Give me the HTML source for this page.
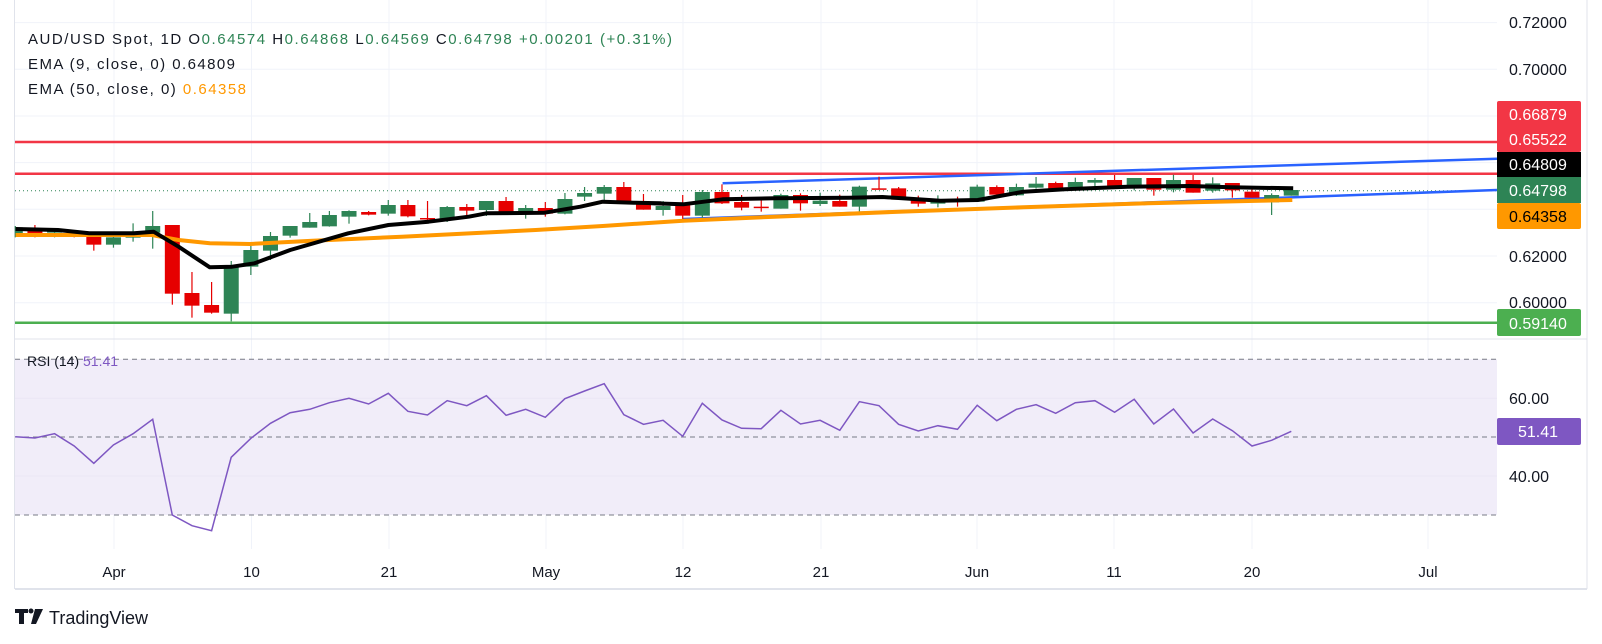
<!DOCTYPE html>
<html><head><meta charset="utf-8"><style>
html,body{margin:0;padding:0;background:#fff;}
svg{display:block;font-family:"Liberation Sans",sans-serif;}
</style></head><body>
<svg id="s" width="1602" height="644" viewBox="0 0 1602 644" xmlns="http://www.w3.org/2000/svg">
<rect width="1602" height="644" fill="#fff"/>
<g id="grid" stroke="#f0f3fa" stroke-width="1"></g>
<rect x="15" y="359.3" width="1482" height="155.7" fill="#f1edf9"/>
<g stroke="#ebe6f5" stroke-width="1"><line x1="15" y1="398.2" x2="1497" y2="398.2"/><line x1="15" y1="476" x2="1497" y2="476"/></g>
<g stroke="#787b86" stroke-width="1" stroke-dasharray="5,4"><line x1="15" y1="359.3" x2="1497" y2="359.3"/><line x1="15" y1="437" x2="1497" y2="437"/><line x1="15" y1="515" x2="1497" y2="515"/></g>
<line x1="15" y1="339" x2="1587" y2="339" stroke="#e0e3eb"/>
<line x1="14.5" y1="0" x2="14.5" y2="589" stroke="#e0e3eb"/>
<line x1="15" y1="589" x2="1587" y2="589" stroke="#e0e3eb" stroke-width="2"/>
<line x1="1587" y1="0" x2="1587" y2="589" stroke="#e0e3eb"/>
<g id="hl"></g>
<g id="candles"></g>
<g id="ema"></g>
<polyline id="rsi" fill="none" stroke="#7e57c2" stroke-width="1.5"/>
<g id="labels" font-size="16" fill="#131722">
<text x="1509" y="28">0.72000</text>
<text x="1509" y="75">0.70000</text>
<text x="1509" y="262">0.62000</text>
<text x="1509" y="308">0.60000</text>
<text x="1509" y="404">60.00</text>
<text x="1509" y="482">40.00</text>
</g>
<rect x="1497" y="101" width="84" height="51" rx="2" fill="#f23645"/>
<rect x="1497" y="152" width="84" height="25" fill="#000"/>
<rect x="1497" y="177" width="84" height="26" fill="#2e8455"/>
<rect x="1497" y="203" width="84" height="26" rx="2" fill="#ff9800"/>
<rect x="1497" y="309" width="84" height="27" rx="2" fill="#4caf50"/>
<rect x="1497" y="418" width="84" height="27" rx="2" fill="#7e57c2"/>
<g font-size="16" fill="#fff">
<text x="1509" y="120">0.66879</text>
<text x="1509" y="145">0.65522</text>
<text x="1509" y="170">0.64809</text>
<text x="1509" y="196">0.64798</text>
<text x="1509" y="222" fill="#000">0.64358</text>
<text x="1509" y="329">0.59140</text>
<text x="1518" y="437">51.41</text>
</g>
<g font-size="15" fill="#131722" text-anchor="middle">
<text x="114" y="577">Apr</text><text x="251.5" y="577">10</text><text x="389" y="577">21</text>
<text x="546" y="577">May</text><text x="683" y="577">12</text><text x="821" y="577">21</text>
<text x="977" y="577">Jun</text><text x="1114" y="577">11</text><text x="1252" y="577">20</text>
<text x="1428" y="577">Jul</text>
</g>
<g font-size="15" fill="#131722">
<text x="28" y="44" textLength="644" lengthAdjust="spacing">AUD/USD Spot, 1D  O<tspan fill="#2e8455">0.64574</tspan>  H<tspan fill="#2e8455">0.64868</tspan>  L<tspan fill="#2e8455">0.64569</tspan>  C<tspan fill="#2e8455">0.64798</tspan>  <tspan fill="#2e8455">+0.00201 (+0.31%)</tspan></text>
<text x="28" y="69" textLength="207" lengthAdjust="spacing">EMA (9, close, 0)  0.64809</text>
<text x="28" y="94" textLength="218" lengthAdjust="spacing">EMA (50, close, 0)  <tspan fill="#ff9800">0.64358</tspan></text>
<text x="27" y="366" font-size="14">RSI (14) <tspan fill="#7e57c2">51.41</tspan></text>
</g>
<g fill="#131722">
<path d="M15 609h13v4h-4v11h-5v-11h-4z"/>
<circle cx="31" cy="611" r="2.5"/>
<path d="M35 609h8l-7 15h-5z"/>
<text x="49" y="624" font-size="18">TradingView</text>
</g>
</svg>
<script>
var NS="http://www.w3.org/2000/svg";
function el(p,t,a){var e=document.createElementNS(NS,t);for(var k in a)e.setAttribute(k,a[k]);p.appendChild(e);return e;}
var g=document.getElementById('grid');
[22.6,69.3,116,162.6,209.3,256,302.7].forEach(function(y){el(g,'line',{x1:15,y1:y,x2:1497,y2:y});});
[114,251.5,389,546,683,821,977,1114,1252,1428].forEach(function(x){el(g,'line',{x1:x,y1:0,x2:x,y2:549});});
var hl=document.getElementById('hl');
el(hl,'line',{x1:15,y1:142,x2:1497,y2:142,stroke:'#f23645','stroke-width':2.5});
el(hl,'line',{x1:15,y1:173.8,x2:1497,y2:173.8,stroke:'#f23645','stroke-width':2.5});
el(hl,'line',{x1:15,y1:322.7,x2:1497,y2:322.7,stroke:'#4caf50','stroke-width':2.5});
el(hl,'line',{x1:15,y1:190.7,x2:1497,y2:190.7,stroke:'#2e8455','stroke-width':1,'stroke-dasharray':'1,3'});
el(hl,'line',{x1:722.6,y1:183.3,x2:1497,y2:158.7,stroke:'#2962ff','stroke-width':2.5});
el(hl,'line',{x1:683,y1:219,x2:1497,y2:190,stroke:'#2962ff','stroke-width':2.5});
var z1=[['g',232,260,228,262],['r',242,251,225,262],['g',241,248,236,262],['r',242,260,240,262],['r',255,284,248,302],['g',262,284,258,293],['g',247,263,220,275],['g',228,248,183,296],['r',225,431,225,464],['r',429,467,366,503],['r',465,488,396,491],['g',347,491,333,514],['g',300,350,282,375],['g',258,302,246,330],['g',228,257,228,263],['g',216,233,189,233],['g',195,229,183,230],['g',183,200,181,221],['r',186,194,183,196],['g',165,191,150,197],['r',165,199,150,202],['r',204,207,153,213],['g',171,207,168,216],['r',171,182,162,195],['g',153,180,153,198],['r',153,191,141,193],['g',174,191,165,206],['r',174,191,156,200],['g',147,191,129,193],['g',129,140,111,153],['g',111,131,105,150],['r',111,161,96,161],['r',159,179,132,179]];
var z2=[['g',168,180,153,197],['r',165,197,135,207],['g',126,197,120,203],['r',126,160,103,162],['r',156,173,135,181],['r',170,173,150,185],['g',135,176,131,176],['r',135,160,130,182],['g',152,162,128,168],['r',153,170,134,170],['g',110,170,107,185],['r',115,117,80,117],['r',115,149,111,150],['r',147,161,137,170],['g',147,161,136,172],['r',147,155,140,170],['g',110,155,104,155],['r',111,134,106,145],['g',111,136,101,138],['g',101,113,81,116],['r',99,117,95,117],['g',96,111,83,113],['g',90,98,84,112],['r',90,107,75,107],['g',84,107,84,121],['r',84,119,84,137],['g',90,119,74,127],['r',90,128,75,128],['g',100,122,82,128],['r',99,121,99,143],['r',125,143,112,143],['g',135,157,130,195],['g',120,137,120,137]];
var all=z1.concat(z2);
var cg=document.getElementById('candles');
all.forEach(function(c,i){
 var x=15.3+19.63*i; function Y(v){return 150+v/3;}
 var col=c[0]=='g'?'#2e8455':'#e60000';
 el(cg,'line',{x1:x,y1:Y(c[3]),x2:x,y2:Y(c[4]),stroke:col,'stroke-width':1.2});
 var t=Y(c[1]),b=Y(c[2]);if(b-t<1.5)b=t+1.5;
 var x0=Math.max(15,x-7.5);
 el(cg,'rect',{x:x0,y:t,width:x+7.5-x0,height:b-t,fill:col});
});
var em=document.getElementById('ema');
function pts(a,ox,sx){return a.map(function(p){return (ox+p[0]/sx).toFixed(1)+','+(150+p[1]/3).toFixed(1);});}
var o1=[[35,255],[340,255],[400,270],[470,280],[560,282],[700,272],[900,260],[1200,240],[1350,228]];
var o2=[[80,212],[300,200],[600,185],[900,172],[1200,160],[1548,150]];
el(em,'polyline',{points:pts(o1,0,2.24).concat(pts(o2,650,2.41)).join(' '),fill:'none',stroke:'#ff9800','stroke-width':4});
var b1=[[35,237],[130,240],[200,250],[300,250],[344,245],[400,290],[470,352],[520,350],[570,340],[650,300],[780,250],[870,225],[960,215],[1050,200],[1090,190],[1220,188],[1300,170],[1350,155],[1420,158],[1480,160]];
var b2=[[0,160],[80,163],[175,148],[300,145],[480,143],[560,141],[700,152],[790,150],[900,125],[1000,118],[1150,110],[1300,108],[1400,112],[1550,115]];
el(em,'polyline',{points:pts(b1,0,2.24).concat(pts(b2,650,2.41)).join(' '),fill:'none',stroke:'#000','stroke-width':4,'stroke-linejoin':'round'});
var r=[436.7,438,433.7,446,463.3,445,433.7,419.3,515,525.7,530.7,457.3,438.3,423.3,412.7,409.3,402.7,398.3,404,393.3,411.3,415,400.7,405.7,395.7,415.3,409.3,417.3,398.7,391,383.7,414.7,424.3,420.3,436.3,403.3,420,428.3,428.7,410.3,424,420.3,430.3,401.7,405.7,424.3,431,425.7,429.3,405.3,420.7,409.3,404.7,413.3,402.7,400.7,412.3,399.3,424,409,433,419,430.7,446,440.3,431.3];
document.getElementById('rsi').setAttribute('points',r.map(function(y,i){return (15.3+19.63*i).toFixed(1)+','+y;}).join(' '));
</script>
</body></html>
